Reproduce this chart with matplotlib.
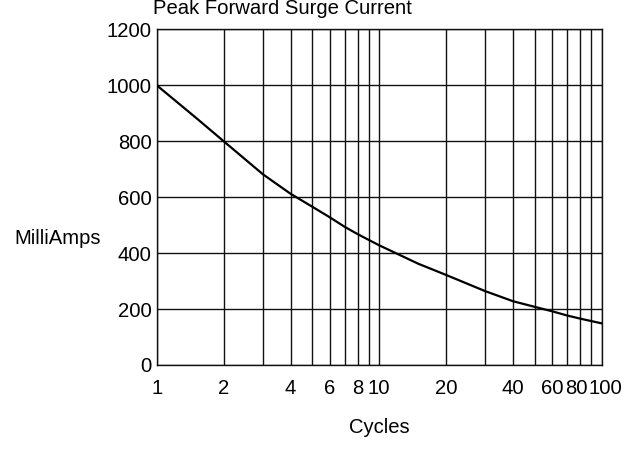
"""
Peak Forward Surge Current - curva en escala logaritmica
"""
import matplotlib
matplotlib.use("Agg")
import matplotlib.pyplot as plt
from matplotlib.ticker import FixedLocator, NullLocator, FixedFormatter
from matplotlib.transforms import ScaledTranslation

plt.rcParams['font.family'] = ['Liberation Sans', 'DejaVu Sans']

# Datos
cycles = [1, 1.5, 2, 3, 4, 5, 6, 7, 8, 10, 15, 20, 30, 40, 50, 60, 70, 80, 100]
milliamps = [1000, 884, 800, 682, 612, 566, 528, 494, 468, 428, 362, 322,
             264, 228, 208, 192, 177, 166, 149]

grid_x = [1, 2, 3, 4, 5, 6, 7, 8, 9, 10, 20, 30, 40, 50, 60, 70, 80, 90, 100]
xtick_vals = [1, 2, 4, 6, 8, 10, 20, 40, 60, 80, 100]
xtick_labels = ['1', '2', '4', '6', '8', '10', '20', '40', '60', '80', '100']
ytick_vals = [0, 200, 400, 600, 800, 1000, 1200]

title = 'Peak Forward Surge Current'
ylabel = 'MilliAmps'
xlabel = 'Cycles'

W, H = 635, 451
fig = plt.figure(figsize=(W / 100, H / 100), dpi=100)
ax = fig.add_axes([156.7 / W, 1 - 365 / H, (601.5 - 156.7) / W, (365 - 29.3) / H])

fs = 14.6
ax.set_xscale('log')
ax.set_xlim(1, 100)
ax.set_ylim(0, 1200)

# rejilla
for gx in grid_x:
    ax.axvline(gx, color='#111111', lw=1.0, zorder=1)
for gy in ytick_vals:
    ax.axhline(gy, color='#111111', lw=1.0, zorder=1)

ax.plot(cycles, milliamps, color='black', lw=1.6, zorder=3)

ax.xaxis.set_major_locator(FixedLocator(xtick_vals))
ax.xaxis.set_major_formatter(FixedFormatter(xtick_labels))
ax.xaxis.set_minor_locator(NullLocator())
ax.set_yticks(ytick_vals)
ax.tick_params(axis='x', length=0, pad=10, labelsize=fs, colors='black')
ax.tick_params(axis='y', length=0, pad=3.5, labelsize=fs, colors='black')

# separar un poco las etiquetas 80 y 100 como en el original
fig.canvas.draw()
for lab in ax.get_xticklabels():
    if lab.get_text() == '80':
        lab.set_transform(lab.get_transform() + ScaledTranslation(-4 / 100, 0, fig.dpi_scale_trans))
    elif lab.get_text() == '100':
        lab.set_transform(lab.get_transform() + ScaledTranslation(4 / 100, 0, fig.dpi_scale_trans))

for sp in ax.spines.values():
    sp.set_color('#111111')
    sp.set_linewidth(1.0)

fig.text(282.5 / W, 1 - 14.5 / H, title, ha='center', va='baseline', fontsize=fs)
fig.text(14 / W, 1 - 244.5 / H, ylabel, ha='left', va='baseline', fontsize=fs)
fig.text(379.5 / W, 1 - 433.3 / H, xlabel, ha='center', va='baseline', fontsize=fs)

plt.savefig('out.png', dpi=100)
plt.close()
